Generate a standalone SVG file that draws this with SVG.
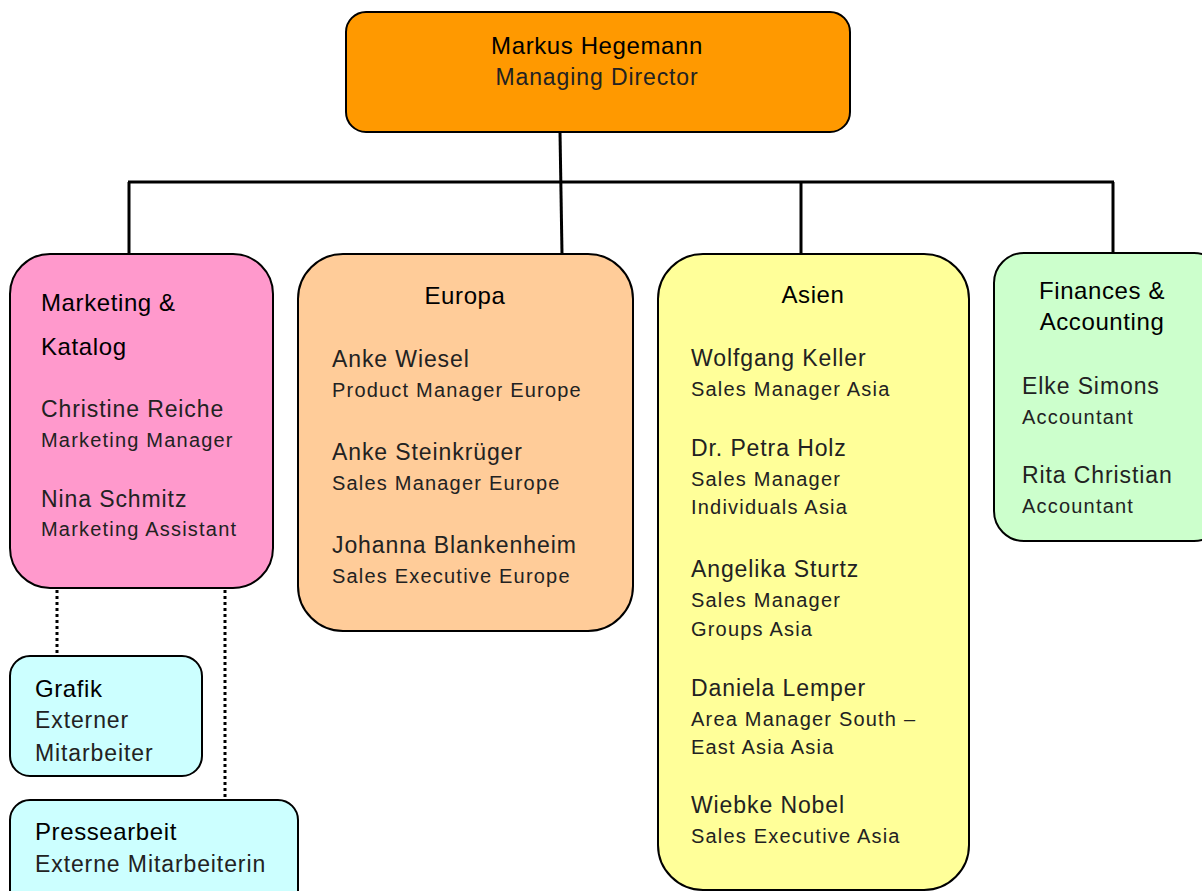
<svg xmlns="http://www.w3.org/2000/svg" width="1202" height="891" viewBox="0 0 1202 891">
<style>
.box{stroke:#000;stroke-width:2}
text{font-family:"Liberation Sans","DejaVu Sans",sans-serif;fill:#111}
.h{font-size:24px;letter-spacing:0.6px;fill:#000}
.n{font-size:23px;letter-spacing:0.9px;fill:#222}
.r{font-size:20px;letter-spacing:1.2px;fill:#222}
.c{text-anchor:middle}
.line{stroke:#000;stroke-width:3;fill:none}
.dot{stroke:#000;stroke-width:3;fill:none;stroke-dasharray:3 3}
</style>
<rect width="1202" height="891" fill="#fff"/>
<g id="connectors">
<line class="line" x1="560" y1="132" x2="562" y2="254"/>
<line class="line" x1="128" y1="182" x2="1114" y2="182"/>
<line class="line" x1="129" y1="182" x2="129" y2="254"/>
<line class="line" x1="801" y1="182" x2="801" y2="254"/>
<line class="line" x1="1113" y1="182" x2="1113" y2="253"/>
<line class="dot" x1="57" y1="590" x2="57" y2="654"/>
<line class="dot" x1="225" y1="590" x2="225" y2="799"/>
</g>
<g id="director">
<rect class="box" x="346" y="12" width="504" height="120" rx="20" fill="#FF9900"/>
<text class="h c" x="597" y="54">Markus Hegemann</text>
<text class="n c" x="597" y="85">Managing Director</text>
</g>
<g id="marketing">
<rect class="box" x="10" y="254" width="263" height="334" rx="40" fill="#FF99CC"/>
<text class="h" x="41" y="311">Marketing &amp;</text>
<text class="h" x="41" y="355">Katalog</text>
<text class="n" x="41" y="417">Christine Reiche</text>
<text class="r" x="41" y="447">Marketing Manager</text>
<text class="n" x="41" y="507">Nina Schmitz</text>
<text class="r" x="41" y="536">Marketing Assistant</text>
</g>
<g id="europa">
<rect class="box" x="298" y="254" width="335" height="377" rx="45" fill="#FFCC99"/>
<text class="h c" x="465" y="304">Europa</text>
<text class="n" x="332" y="367">Anke Wiesel</text>
<text class="r" x="332" y="397">Product Manager Europe</text>
<text class="n" x="332" y="460">Anke Steinkrüger</text>
<text class="r" x="332" y="490">Sales Manager Europe</text>
<text class="n" x="332" y="553">Johanna Blankenheim</text>
<text class="r" x="332" y="583">Sales Executive Europe</text>
</g>
<g id="asien">
<rect class="box" x="658" y="254" width="311" height="636" rx="45" fill="#FFFF99"/>
<text class="h c" x="813" y="303">Asien</text>
<text class="n" x="691" y="366">Wolfgang Keller</text>
<text class="r" x="691" y="396">Sales Manager Asia</text>
<text class="n" x="691" y="456">Dr. Petra Holz</text>
<text class="r" x="691" y="486">Sales Manager</text>
<text class="r" x="691" y="514">Individuals Asia</text>
<text class="n" x="691" y="577">Angelika Sturtz</text>
<text class="r" x="691" y="607">Sales Manager</text>
<text class="r" x="691" y="636">Groups Asia</text>
<text class="n" x="691" y="696">Daniela Lemper</text>
<text class="r" x="691" y="726">Area Manager South –</text>
<text class="r" x="691" y="754">East Asia Asia</text>
<text class="n" x="691" y="813">Wiebke Nobel</text>
<text class="r" x="691" y="843">Sales Executive Asia</text>
</g>
<g id="finances">
<rect class="box" x="994" y="253" width="230" height="288" rx="30" fill="#CCFFCC"/>
<text class="h c" x="1102" y="299">Finances &amp;</text>
<text class="h c" x="1102" y="330">Accounting</text>
<text class="n" x="1022" y="394">Elke Simons</text>
<text class="r" x="1022" y="424">Accountant</text>
<text class="n" x="1022" y="483">Rita Christian</text>
<text class="r" x="1022" y="513">Accountant</text>
</g>
<g id="grafik">
<rect class="box" x="10" y="656" width="192" height="120" rx="20" fill="#CCFFFF"/>
<text class="h" x="35" y="697">Grafik</text>
<text class="n" x="35" y="728">Externer</text>
<text class="n" x="35" y="761">Mitarbeiter</text>
</g>
<g id="pressearbeit">
<rect class="box" x="10" y="800" width="288" height="120" rx="20" fill="#CCFFFF"/>
<text class="h" x="35" y="840">Pressearbeit</text>
<text class="n" x="35" y="872">Externe Mitarbeiterin</text>
</g>
</svg>
